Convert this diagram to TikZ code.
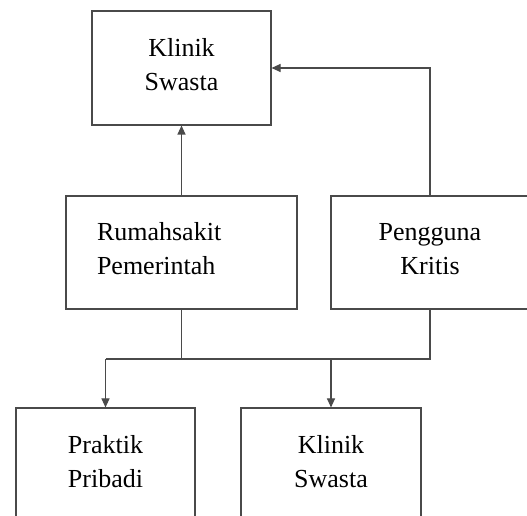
\documentclass[tikz,border=0pt]{standalone}
\usepackage{fontspec}
\setmainfont{Liberation Serif}
\usetikzlibrary{arrows.meta,positioning}
\definecolor{linegray}{HTML}{4A4A4A}

\begin{document}
\begin{tikzpicture}[x=1bp,y=1bp,
  box/.style={draw=linegray,line width=1.1bp,minimum height=114bp,inner sep=0pt,
    align=center,text depth=8bp,font=\fontsize{26bp}{34bp}\selectfont},
  link/.style={draw=linegray,line width=1.1bp},
  arr/.style={link,-{Triangle[length=9bp,width=8bp]}}]
  \useasboundingbox (0,0) rectangle (527,516);
  \clip (0,0) rectangle (527,516);
  % boxes
  \node[box,minimum width=179bp] (top) at (181.5,448) {Klinik\\Swasta};
  \node[box,align=left,text width=169bp,inner xsep=31bp,text depth=42bp,minimum height=113bp] (rs) at (181.5,263.5) {Rumahsakit\\Pemerintah};
  \node[box,minimum width=198bp,minimum height=113bp] (png) at (430,263.5) {Pengguna\\Kritis};
  \node[box,minimum width=179bp] (pp) at (105.5,51) {Praktik\\Pribadi};
  \node[box,minimum width=180bp] (ks) at (331,51) {Klinik\\Swasta};
  % upward links
  \draw[arr] (rs.north) -- (top.south);
  \draw[arr] (png.north) |- (top.east);
  % downward links
  \coordinate (j) at (181.5,157);
  \draw[link] (rs.south) -- (j);
  \draw[link] (png.south) |- (pp.north |- j);
  \draw[arr] (pp.north |- j) -- (pp.north);
  \draw[arr] (ks.north |- j) -- (ks.north);
\end{tikzpicture}
\end{document}
